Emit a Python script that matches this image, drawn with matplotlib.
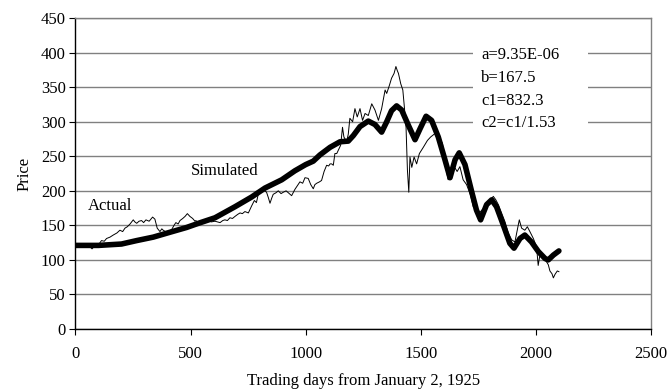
import matplotlib
matplotlib.use("Agg")
import matplotlib.pyplot as plt
from matplotlib.patches import Rectangle

plt.rcParams['font.family'] = ['Liberation Serif', 'DejaVu Serif']

actual_days = [0, 15, 30, 45, 60, 72, 85, 100, 113, 125, 135, 150, 164, 180, 193, 205, 215, 225, 237, 251,
               258, 266, 276, 287, 296, 306, 320, 335, 345, 355, 367, 375, 381, 396, 408, 418, 428, 436, 446, 454,
               466, 476, 486, 497, 509, 519, 523, 535, 548, 560, 577, 590, 606, 628, 640, 649, 660, 671, 682, 693,
               705, 715, 725, 736, 751, 765, 777, 786, 794, 805, 816, 830, 838, 845, 852, 859, 870, 881, 893, 903,
               915, 925, 939, 953, 965, 975, 987, 997, 1011, 1022, 1033, 1040, 1048, 1060, 1069, 1080, 1091, 1100, 1106, 1113,
               1120, 1127, 1135, 1142, 1152, 1160, 1166, 1178, 1185, 1192, 1204, 1214, 1224, 1236, 1247, 1258, 1272, 1287, 1301, 1316,
               1330, 1345, 1352, 1364, 1373, 1384, 1392, 1398, 1403, 1413, 1422, 1428, 1436, 1442, 1448, 1453, 1461, 1471, 1482, 1494,
               1511, 1529, 1543, 1562, 1581, 1594, 1605, 1619, 1627, 1634, 1649, 1658, 1670, 1684, 1699, 1716, 1728, 1739, 1754, 1768,
               1786, 1800, 1815, 1826, 1837, 1851, 1866, 1880, 1895, 1909, 1919, 1928, 1938, 1952, 1963, 1974, 1989, 2003, 2010, 2018,
               2032, 2045, 2054, 2061, 2070, 2076, 2083, 2093, 2100]
actual_price = [122, 123, 121, 123, 120, 116, 121, 122, 128, 127, 131, 133, 136, 139, 143, 141, 146, 148, 152, 158,
                155, 153, 156, 157, 154, 158, 156, 162, 159, 146, 141, 145, 143, 140, 142, 144, 150, 154, 152, 157,
                160, 163, 167, 163, 160, 156, 157, 153, 156, 158, 158, 155, 156, 154, 157, 158, 157, 161, 160, 163,
                166, 168, 167, 170, 168, 178, 186, 183, 195, 198, 202, 198, 190, 182, 189, 195, 197, 200, 196, 198,
                200, 197, 193, 202, 208, 213, 211, 219, 218, 209, 203, 209, 211, 213, 215, 228, 237, 236, 239, 239,
                237, 254, 254, 259, 266, 292, 278, 271, 282, 305, 300, 319, 307, 319, 302, 312, 309, 326, 317, 302,
                319, 346, 341, 353, 363, 370, 380, 374, 370, 355, 346, 324, 292, 230, 198, 249, 234, 249, 239, 254,
                263, 273, 278, 283, 276, 269, 240, 216, 222, 226, 233, 228, 235, 216, 209, 194, 177, 175, 168, 173,
                177, 185, 192, 187, 180, 168, 155, 139, 129, 126, 143, 158, 146, 143, 148, 141, 131, 119, 92, 108,
                103, 98, 93, 84, 80, 74, 79, 84, 83]

sim_days = [0, 100, 200, 266, 338, 410, 483, 534, 606, 693, 765, 823, 896, 953, 1000, 1033, 1062, 1106, 1149, 1185,
            1207, 1236, 1272, 1301, 1330, 1352, 1373, 1395, 1417, 1446, 1475, 1497, 1523, 1547, 1576, 1605, 1627, 1649, 1667, 1692,
            1721, 1742, 1760, 1786, 1808, 1829, 1858, 1887, 1905, 1931, 1952, 1981, 2011, 2040, 2054, 2076, 2100]
sim_price = [121, 121, 123, 128, 133, 140, 147, 153, 161, 177, 191, 204, 216, 229, 238, 243, 252, 263, 271, 272,
             280, 293, 301, 296, 285, 300, 316, 323, 317, 295, 274, 290, 308, 302, 278, 245, 219, 245, 255, 238,
             199, 172, 158, 180, 187, 177, 151, 124, 117, 131, 136, 126, 112, 102, 100, 107, 113]

x_ticks = [0, 500, 1000, 1500, 2000, 2500]
y_ticks = [0, 50, 100, 150, 200, 250, 300, 350, 400, 450]
params_text = ["a=9.35E-06", "b=167.5", "c1=832.3", "c2=c1/1.53"]

fig = plt.figure(figsize=(6.68, 3.91), dpi=100)
ax = fig.add_axes([0.113, 0.1586, 0.8615, 0.795])

ax.set_xlim(0, 2500)
ax.set_ylim(0, 450)
ax.set_xticks(x_ticks)
ax.set_yticks(y_ticks)
ax.tick_params(direction='out', length=4, width=0.8, labelsize=12, pad=8)
ax.tick_params(axis='y', pad=3)

ax.set_axisbelow(True)
ax.yaxis.grid(True, color='#808080', linewidth=1.0)
ax.xaxis.grid(False)
for s in ['top', 'right']:
    ax.spines[s].set_color('#808080')
    ax.spines[s].set_linewidth(1.0)
for s in ['left', 'bottom']:
    ax.spines[s].set_color('black')
    ax.spines[s].set_linewidth(1.0)

ax.plot(actual_days, actual_price, color='black', linewidth=0.7, zorder=3)
ax.plot(sim_days, sim_price, color='black', linewidth=4.0, solid_joinstyle='round',
        solid_capstyle='round', zorder=4)

ax.text(52, 178, "Actual", fontsize=12, va='center', ha='left')
ax.text(500, 229, "Simulated", fontsize=12, va='center', ha='left')

ax.add_patch(Rectangle((0.690, 0.646), 0.200, 0.261, transform=ax.transAxes,
                       facecolor='white', edgecolor='none', zorder=2))
line_y = [0.881, 0.807, 0.733, 0.662]
for txt, yy in zip(params_text, line_y):
    ax.text(0.705, yy, txt, transform=ax.transAxes, fontsize=12,
            va='center', ha='left', zorder=5)

ax.set_xlabel("Trading days from January 2, 1925", fontsize=12, labelpad=8)
ax.set_ylabel("Price", fontsize=12, labelpad=6)

fig.savefig("out.png", dpi=100)
